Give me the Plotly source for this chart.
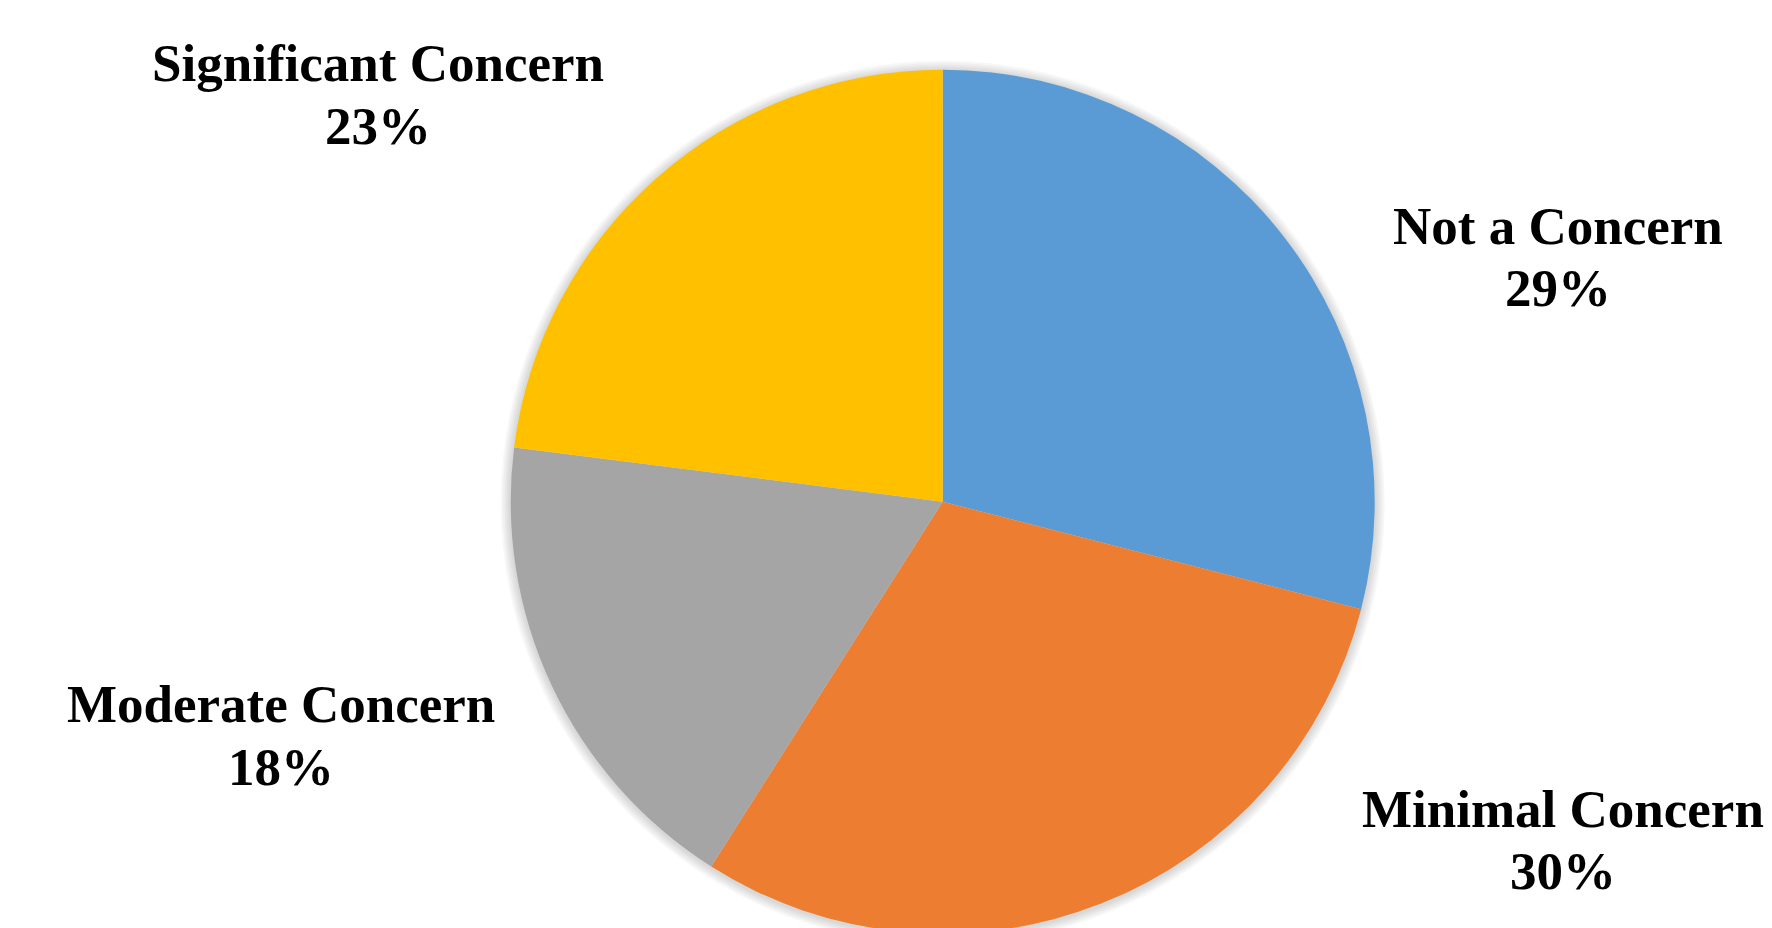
import plotly.graph_objects as go

# Survey responses, clockwise from 12 o'clock
categories = ["Not a Concern", "Minimal Concern", "Moderate Concern", "Significant Concern"]
shares = [29, 30, 18, 23]
colors = ["#5B9BD5", "#ED7D31", "#A5A5A5", "#FFC000"]

W, H = 1772, 950
CX, CY, R = 942.7, 501.7, 432.0


def domain(cx, cy, r):
    return dict(
        x=[(cx - r) / W, (cx + r) / W],
        y=[1 - (cy + r) / H, 1 - (cy - r) / H],
    )


fig = go.Figure()

# soft drop shadow: a few faint discs slightly larger than the pie
for grow in [10, 8, 6, 4, 2]:
    fig.add_trace(go.Pie(
        values=[1],
        domain=domain(CX, CY + 1, R + grow),
        marker=dict(colors=["rgba(0,0,0,0.03)"], line=dict(width=0)),
        textinfo="none",
        hoverinfo="skip",
        showlegend=False,
        sort=False,
    ))

fig.add_trace(go.Pie(
    labels=categories,
    values=shares,
    domain=domain(CX, CY, R),
    marker=dict(colors=colors, line=dict(width=0)),
    sort=False,
    direction="clockwise",
    rotation=0,
    textinfo="none",
    showlegend=False,
))

# label lines (category name, then share): centre x and the two line centres in pixels
label_pos = {
    "Not a Concern": (1558, 226, 288),
    "Minimal Concern": (1563, 809, 871),
    "Moderate Concern": (281, 704, 767),
    "Significant Concern": (378, 63, 126),
}
label_font = dict(family="Liberation Serif", size=53, color="black", weight="bold")
for name, val in zip(categories, shares):
    px, py1, py2 = label_pos[name]
    for txt, py in ((name, py1), (f"{val}%", py2)):
        fig.add_annotation(
            x=px / W, y=1 - py / H, xref="paper", yref="paper",
            text=txt, showarrow=False,
            xanchor="center", yanchor="middle", align="center",
            font=label_font,
        )

fig.update_layout(
    width=W, height=H,
    margin=dict(l=0, r=0, t=0, b=0),
    paper_bgcolor="white",
    plot_bgcolor="white",
)

fig.write_html(
    "out.html",
    config={"displayModeBar": False},
    post_script="document.body.style.margin='0';document.body.style.overflow='hidden';"
                "document.documentElement.style.overflow='hidden';",
)
